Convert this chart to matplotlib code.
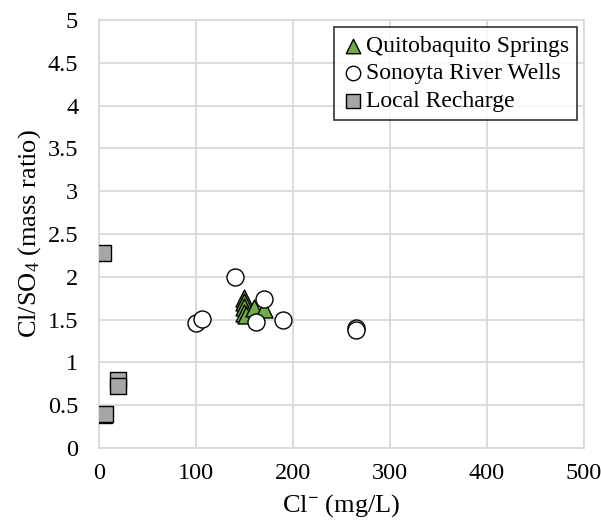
import matplotlib.pyplot as plt

plt.rcParams['font.family'] = ['Liberation Serif', 'DejaVu Serif']
plt.rcParams['mathtext.fontset'] = 'custom'
plt.rcParams['mathtext.rm'] = 'Liberation Serif'
plt.rcParams['mathtext.it'] = 'Liberation Serif:italic'
plt.rcParams['mathtext.bf'] = 'Liberation Serif:bold'

# Cl- (mg/L) vs Cl/SO4 mass ratio
quito_cl = [150, 150, 150, 150, 152, 160, 170]
quito_ratio = [1.75, 1.70, 1.65, 1.58, 1.55, 1.63, 1.62]

sonoyta_cl = [140, 100, 106, 170, 162, 190, 265, 265]
sonoyta_ratio = [2.00, 1.465, 1.51, 1.745, 1.47, 1.50, 1.40, 1.38]

recharge_cl = [4, 20, 20, 5, 6]
recharge_ratio = [2.28, 0.80, 0.72, 0.38, 0.40]

y_ticks = [0, 0.5, 1, 1.5, 2, 2.5, 3, 3.5, 4, 4.5, 5]
y_ticklabels = ['0', '0.5', '1', '1.5', '2', '2.5', '3', '3.5', '4', '4.5', '5']

grid_color = '#d9d9d9'

fig = plt.figure(figsize=(6.01, 5.22), dpi=100)
ax = fig.add_axes([0.1647, 0.1418, 0.9717 - 0.1647, 0.9617 - 0.1418])

ax.scatter(quito_cl, quito_ratio, marker='^', s=150, facecolor='#70ad47',
           edgecolor='black', linewidth=1.0, label='Quitobaquito Springs', zorder=3)
ax.scatter(sonoyta_cl, sonoyta_ratio, marker='o', s=150, facecolor='white',
           edgecolor='black', linewidth=1.0, label='Sonoyta River Wells', zorder=4)
ax.scatter(recharge_cl, recharge_ratio, marker='s', s=140, facecolor='#a6a6a6',
           edgecolor='black', linewidth=1.0, label='Local Recharge', zorder=5)

ax.set_xlim(0, 500)
ax.set_ylim(0, 5)
ax.set_xticks(range(0, 501, 100))
ax.set_yticks(y_ticks)
ax.set_yticklabels(y_ticklabels)
ax.grid(True, color=grid_color, linewidth=1.3)
ax.set_axisbelow(True)
for s in ax.spines.values():
    s.set_color(grid_color)
    s.set_linewidth(1.3)
ax.tick_params(length=0, labelsize=17.5)
ax.tick_params(axis='x', pad=11)
ax.tick_params(axis='y', pad=15)

ax.set_xlabel(r'Cl$^{\mathbf{-}}$ (mg/L)', fontsize=19, labelpad=6)
ax.set_ylabel(r'Cl/SO$_4$ (mass ratio)', fontsize=19, labelpad=3)

leg = ax.legend(loc='upper right', fontsize=17, frameon=True, fancybox=False,
                handletextpad=0.1, handlelength=0.9, borderpad=0.35,
                labelspacing=0.25, markerscale=0.85, borderaxespad=0.3)
leg.get_frame().set_edgecolor('black')
leg.get_frame().set_linewidth(1.2)

fig.savefig('out.png', dpi=100)
